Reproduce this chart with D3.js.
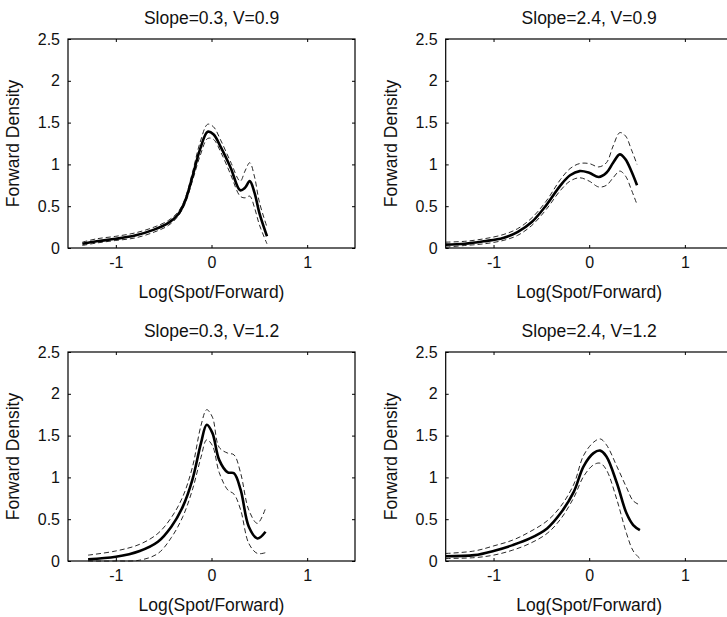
<!DOCTYPE html>
<html>
<head>
<meta charset="utf-8">
<script src="https://d3js.org/d3.v7.min.js"></script>
<style>
  body { margin: 0; background: #fff; }
  svg { display: block; overflow: hidden; }
  text { font-family: "Liberation Sans", Arial, Helvetica, sans-serif; fill: #111; }
</style>
</head>
<body>
<div class="chart"></div>
<script>
// tick labels, shared by all four panels
var xTicks = [-1, 0, 1];
var yTicks = [0, 0.5, 1, 1.5, 2, 2.5];
var xTickLabels = ["-1", "0", "1"];
var yTickLabels = ["0", "0.5", "1", "1.5", "2", "2.5"];

var titles = ["Slope=0.3, V=0.9", "Slope=2.4, V=0.9", "Slope=0.3, V=1.2", "Slope=2.4, V=1.2"];

// panel 1: Slope=0.3, V=0.9
var x1 = [-1.35, -1.2, -1.0, -0.8, -0.6, -0.45, -0.35, -0.28, -0.2, -0.12, -0.04, 0.02, 0.1, 0.2, 0.3, 0.35, 0.4, 0.45, 0.5, 0.58];
var mean1 = [0.05, 0.08, 0.11, 0.15, 0.22, 0.30, 0.40, 0.55, 0.85, 1.18, 1.39, 1.36, 1.20, 0.96, 0.69, 0.72, 0.80, 0.66, 0.42, 0.14];
var upper1 = [0.07, 0.11, 0.14, 0.18, 0.25, 0.33, 0.43, 0.58, 0.90, 1.26, 1.48, 1.45, 1.28, 1.03, 0.80, 0.92, 1.02, 0.85, 0.55, 0.25];
var lower1 = [0.03, 0.06, 0.09, 0.12, 0.19, 0.27, 0.38, 0.52, 0.80, 1.10, 1.31, 1.30, 1.14, 0.88, 0.62, 0.60, 0.62, 0.48, 0.28, 0.05];

// panel 2: Slope=2.4, V=0.9
var x2 = [-1.5, -1.3, -1.1, -0.9, -0.75, -0.6, -0.45, -0.3, -0.2, -0.1, 0.0, 0.1, 0.18, 0.25, 0.32, 0.38, 0.44, 0.5];
var mean2 = [0.04, 0.05, 0.08, 0.12, 0.19, 0.31, 0.51, 0.75, 0.87, 0.92, 0.90, 0.85, 0.90, 1.02, 1.12, 1.06, 0.92, 0.75];
var upper2 = [0.07, 0.08, 0.11, 0.16, 0.23, 0.36, 0.56, 0.82, 0.95, 1.01, 1.01, 0.97, 1.02, 1.22, 1.38, 1.34, 1.18, 1.00];
var lower2 = [0.01, 0.03, 0.05, 0.09, 0.15, 0.27, 0.46, 0.69, 0.80, 0.84, 0.80, 0.73, 0.75, 0.84, 0.92, 0.86, 0.70, 0.52];

// panel 3: Slope=0.3, V=1.2
var x3 = [-1.29, -1.0, -0.75, -0.56, -0.42, -0.3, -0.2, -0.11, -0.05, 0.01, 0.08, 0.17, 0.235, 0.305, 0.39, 0.48, 0.565];
var mean3 = [0.02, 0.05, 0.12, 0.23, 0.41, 0.65, 0.97, 1.41, 1.63, 1.53, 1.21, 1.06, 1.05, 0.85, 0.41, 0.27, 0.35];
var upper3 = [0.07, 0.12, 0.20, 0.33, 0.52, 0.77, 1.12, 1.62, 1.81, 1.72, 1.36, 1.29, 1.27, 1.05, 0.61, 0.45, 0.63];
var lower3 = [0.0, 0.0, 0.01, 0.09, 0.28, 0.53, 0.85, 1.24, 1.45, 1.38, 1.06, 0.85, 0.80, 0.61, 0.21, 0.09, 0.10];

// panel 4: Slope=2.4, V=1.2
var x4 = [-1.5, -1.2, -1.0, -0.8, -0.62, -0.44, -0.3, -0.16, -0.06, 0.045, 0.115, 0.18, 0.29, 0.39, 0.46, 0.53];
var mean4 = [0.056, 0.07, 0.12, 0.19, 0.27, 0.39, 0.57, 0.83, 1.13, 1.29, 1.32, 1.25, 0.93, 0.57, 0.43, 0.37];
var upper4 = [0.09, 0.12, 0.18, 0.25, 0.35, 0.48, 0.65, 0.92, 1.26, 1.42, 1.46, 1.39, 1.13, 0.88, 0.72, 0.67];
var lower4 = [0.03, 0.04, 0.07, 0.13, 0.21, 0.33, 0.50, 0.76, 1.01, 1.15, 1.17, 1.09, 0.73, 0.33, 0.12, 0.03];

var panels = [
  { x: x1, mean: mean1, upper: upper1, lower: lower1 },
  { x: x2, mean: mean2, upper: upper2, lower: lower2 },
  { x: x3, mean: mean3, upper: upper3, lower: lower3 },
  { x: x4, mean: mean4, upper: upper4, lower: lower4 }
];

var svgWidth = 727;
var svgHeight = 617;

// left/top corner of each axes box
var boxes = [
  { left: 68, top: 39 },
  { left: 445.7, top: 39 },
  { left: 68, top: 352 },
  { left: 445.7, top: 352 }
];
var width = 287;
var height = 209;

var svg = d3.select(".chart")
  .append("svg")
  .attr("width", svgWidth)
  .attr("height", svgHeight);

var xScale = d3.scaleLinear().domain([-1.5, 1.5]).range([0, width]);
var yScale = d3.scaleLinear().domain([0, 2.5]).range([height, 0]);

var line = d3.line()
  .x(d => xScale(d[0]))
  .y(d => yScale(d[1]))
  .curve(d3.curveCatmullRom.alpha(0.5));

panels.forEach(function (p, i) {
  var g = svg.append("g")
    .attr("transform", `translate(${boxes[i].left}, ${boxes[i].top})`);

  // inward ticks on all four sides, matlab style
  var bottomAxis = d3.axisBottom(xScale).tickValues(xTicks).tickSize(-3).tickFormat((d, j) => xTickLabels[j]).tickPadding(9);
  var topAxis = d3.axisTop(xScale).tickValues(xTicks).tickSize(-3).tickFormat("");
  var leftAxis = d3.axisLeft(yScale).tickValues(yTicks).tickSize(-3).tickFormat((d, j) => yTickLabels[j]).tickPadding(8);
  var rightAxis = d3.axisRight(yScale).tickValues(yTicks).tickSize(-3).tickFormat("");

  var xAxis = g.append("g").attr("transform", `translate(0, ${height})`).call(bottomAxis);
  g.append("g").call(topAxis);
  var yAxis = g.append("g").call(leftAxis);
  g.append("g").attr("transform", `translate(${width}, 0)`).call(rightAxis);

  g.selectAll(".domain").remove();
  g.selectAll(".tick line").attr("stroke", "#000").attr("stroke-width", 1);
  xAxis.selectAll("text").attr("font-size", 16).attr("fill", "#111");
  yAxis.selectAll("text").attr("font-size", 16).attr("fill", "#111");

  // the box
  g.append("rect")
    .attr("width", width)
    .attr("height", height)
    .attr("fill", "none")
    .attr("stroke", "#000")
    .attr("stroke-width", 1.2);

  // confidence bands
  [p.upper, p.lower].forEach(function (band) {
    g.append("path")
      .datum(p.x.map((v, k) => [v, band[k]]))
      .attr("d", line)
      .attr("fill", "none")
      .attr("stroke", "#111")
      .attr("stroke-width", 0.9)
      .attr("stroke-dasharray", "5,3");
  });

  // estimated density
  g.append("path")
    .datum(p.x.map((v, k) => [v, p.mean[k]]))
    .attr("d", line)
    .attr("fill", "none")
    .attr("stroke", "#000")
    .attr("stroke-width", 2.6)
    .attr("stroke-linejoin", "round");

  g.append("text")
    .attr("x", width / 2)
    .attr("y", -15)
    .attr("text-anchor", "middle")
    .attr("font-size", 17.5)
    .text(titles[i]);

  g.append("text")
    .attr("x", width / 2)
    .attr("y", height + 50)
    .attr("text-anchor", "middle")
    .attr("font-size", 17.5)
    .text("Log(Spot/Forward)");

  g.append("text")
    .attr("transform", "rotate(-90)")
    .attr("x", -height / 2)
    .attr("y", -49)
    .attr("text-anchor", "middle")
    .attr("font-size", 17.5)
    .text("Forward Density");
});
</script>
</body>
</html>
